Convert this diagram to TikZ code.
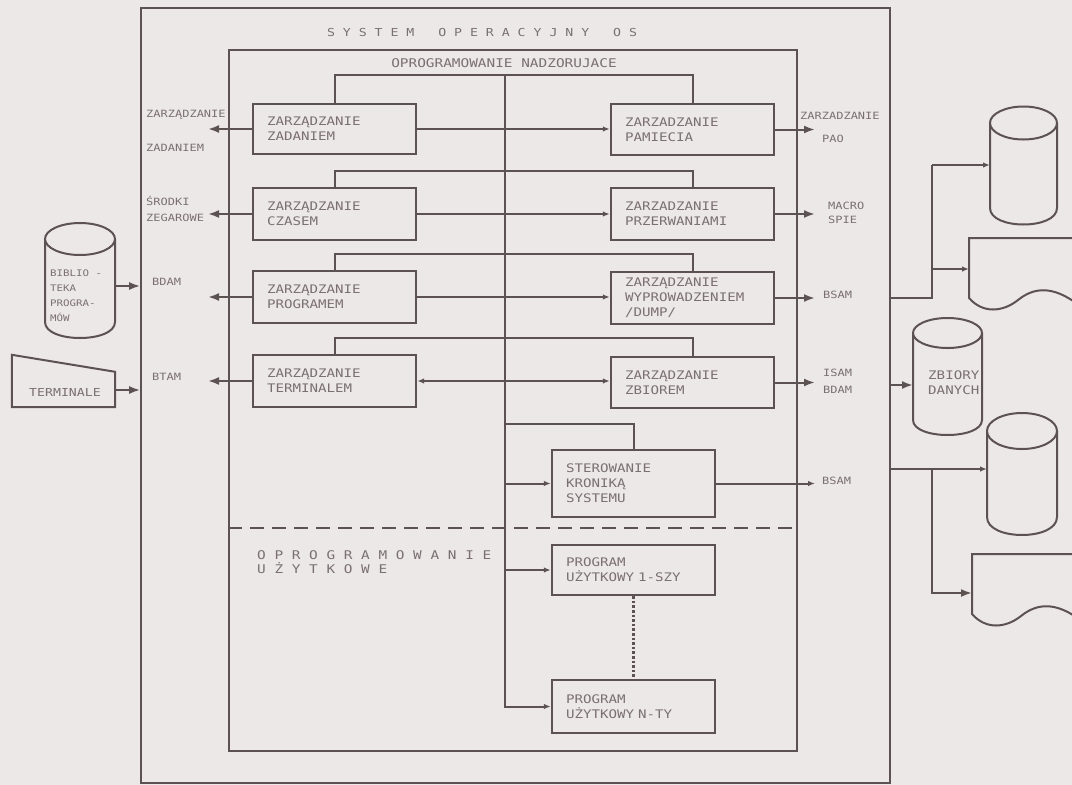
\documentclass[tikz,border=0pt]{standalone}
\usepackage{fontspec}
\usetikzlibrary{arrows.meta,calc}
\newfontfamily\dmono[FakeStretch=1.2]{DejaVu Sans Mono}
\definecolor{bgc}{RGB}{237,232,232}
\definecolor{lnc}{RGB}{92,82,82}
\definecolor{txc}{RGB}{122,112,112}
\newcommand\drum[6]{%
  \fill[bgc] ({#2-#5},#3) -- ({#2-#5},#4) .. controls ({#2-#5},{#4+1.333*#6}) and ({#2+#5},{#4+1.333*#6}) .. ({#2+#5},#4) -- ({#2+#5},#3) -- cycle;
  \draw[cyl] ({#2-#5},#3) -- ({#2-#5},#4) .. controls ({#2-#5},{#4+1.333*#6}) and ({#2+#5},{#4+1.333*#6}) .. ({#2+#5},#4) -- ({#2+#5},#3);
  \draw[cyl,fill=bgc] (#2,#3) ellipse [x radius=#5, y radius=#6];
  \coordinate (#1) at ({#2-#5},{(#3+#4)/2});
}
\begin{document}
\begin{tikzpicture}[x=1pt,y=-1pt,
  line/.style={draw=lnc, line width=2pt},
  cyl/.style={draw=lnc, line width=2pt},
  box/.style={draw=lnc, line width=2.4pt, fill=bgc, minimum width=163pt, text width=135pt,
     inner xsep=14pt, inner ysep=2pt, align=left, text=txc, font=\dmono\fontsize{11.8}{15}\selectfont},
  lbl/.style={text=txc, inner sep=0pt, anchor=west, font=\dmono\fontsize{10}{12}\selectfont},
  big/.style={text=txc, inner sep=0pt, font=\dmono\fontsize{11.8}{15}\selectfont},
  arr/.style={-{Latex[length=11pt,width=8pt]}},
  sarr/.style={-{Latex[length=7pt,width=5.5pt]}},
  dsarr/.style={{Latex[length=7pt,width=5.5pt]}-{Latex[length=7pt,width=5.5pt]}}]
\fill[bgc] (0,0) rectangle (1072,785);
\useasboundingbox (0,0) rectangle (1072,785);

% frames
\node[draw=lnc, line width=1.6pt, minimum width=749pt, minimum height=775pt, inner sep=0pt] (os) at (515.5,395.5) {};
\node[draw=lnc, line width=2pt, minimum width=568pt, minimum height=701pt, inner sep=0pt] (nad) at (513,400.5) {};
\node[big, font=\dmono\fontsize{11}{13}\selectfont] (tit) at (482,32) {S Y S T E M\ \ \ O P E R A C Y J N Y\ \ \ O S};
\node[big, font=\dmono\fontsize{12}{14}\selectfont] (sub) at (504,63) {OPROGRAMOWANIE NADZORUJACE};
\node[big, anchor=west, font=\dmono\fontsize{12}{14}\selectfont] (uz1) at (257,555) {O P R O G R A M O W A N I E};
\node[big, anchor=west, font=\dmono\fontsize{12}{14}\selectfont] (uz2) at (257,568) {U Ż Y T K O W E};

% boxes
\node[box, minimum height=50pt] (zad) at (334.5,129) {ZARZĄDZANIE\\ZADANIEM};
\node[box, minimum height=52pt] (czas) at (334.5,214) {ZARZĄDZANIE\\CZASEM};
\node[box, minimum height=52pt] (prog) at (334.5,297) {ZARZĄDZANIE\\PROGRAMEM};
\node[box, minimum height=52pt] (term) at (334.5,381) {ZARZĄDZANIE\\TERMINALEM};
\node[box, minimum height=51pt] (pam) at (692.5,129.5) {ZARZADZANIE\\PAMIECIA};
\node[box, minimum height=52pt] (prz) at (692.5,214) {ZARZADZANIE\\PRZERWANIAMI};
\node[box, minimum height=52pt, inner ysep=0pt] (wyp) at (692.5,298) {ZARZĄDZANIE\\WYPROWADZENIEM\\/DUMP/};
\node[box, minimum height=51pt] (zbi) at (692.5,382.5) {ZARZĄDZANIE\\ZBIOREM};
\node[box, minimum height=67pt] (ster) at (633.5,483.5) {STEROWANIE\\KRONIKĄ\\SYSTEMU};
\node[box, minimum height=50pt] (p1) at (633.5,570) {PROGRAM\\UŻYTKOWY 1-SZY};
\node[box, minimum height=53pt] (pn) at (633.5,706.5) {PROGRAM\\UŻYTKOWY N-TY};

% dashed separator
\coordinate (dy) at (0,528);
\draw[line, line width=2.4pt, dash pattern=on 14pt off 8pt] (nad.west |- dy) -- (nad.east |- dy);

% central bus
\coordinate (top) at (505,75);
\draw[line] (zad.north) |- (top) -| (pam.north);
\draw[line, sarr] (top) |- (pn.west);
\draw[line] (czas.north) -- ++(0,-16) -| (prz.north);
\draw[line] (prog.north) -- ++(0,-16) -| (wyp.north);
\draw[line] (term.north) -- ++(0,-16) -| (zbi.north);
\coordinate (sb) at (505,424);
\draw[line] (sb) -| (ster.north);
\draw[line, sarr] (ster.west -| top) -- (ster.west);
\draw[line, sarr] (p1.west -| top) -- (p1.west);
\draw[draw=lnc, line width=2.6pt, dotted] (p1.south) -- (pn.north);

% row connectors
\draw[line, sarr] (zad.east) -- (zad.east -| pam.west);
\draw[line, sarr] (czas.east) -- (czas.east -| prz.west);
\draw[line, sarr] (prog.east) -- (prog.east -| wyp.west);
\draw[line, dsarr] (term.east) -- (term.east -| zbi.west);

% left outputs
\coordinate (lx) at (208,0);
\draw[line, arr] (zad.west) -- (zad.west -| lx);
\draw[line, arr] (czas.west) -- (czas.west -| lx);
\draw[line, arr] (prog.west) -- (prog.west -| lx);
\draw[line, arr] (term.west) -- (term.west -| lx);
\node[lbl] (l1a) at (146,115) {ZARZĄDZANIE};
\node[lbl] (l1b) at (146,148) {ZADANIEM};
\node[lbl] (l2a) at (146,201) {ŚRODKI};
\node[lbl] (l2b) at (146,218) {ZEGAROWE};
\node[lbl] (l3) at (152,282) {BDAM};
\node[lbl] (l4) at (152,377) {BTAM};

% right outputs
\coordinate (rx) at (815,0);
\draw[line, arr] (pam.east) -- (pam.east -| rx);
\draw[line, arr] (prz.east) -- (prz.east -| rx);
\draw[line, arr] (wyp.east) -- (wyp.east -| rx);
\draw[line, arr] (zbi.east) -- (zbi.east -| rx);
\draw[line, sarr] (ster.east) -- (ster.east -| rx);
\node[lbl] (r1a) at (800,116) {ZARZADZANIE};
\node[lbl] (r1b) at (822,139) {PAO};
\node[lbl] (r2a) at (828,206) {MACRO};
\node[lbl] (r2b) at (828,220) {SPIE};
\node[lbl] (r3) at (823,295) {BSAM};
\node[lbl] (r4a) at (823,373) {ISAM};
\node[lbl] (r4b) at (823,390) {BDAM};
\node[lbl] (r5) at (822,481) {BSAM};

% left external: library drum and terminal
\drum{bibc}{80}{239}{322}{35}{16}
\node[text=txc, inner sep=0pt, anchor=west, align=left, font=\dmono\fontsize{9}{15}\selectfont] (bibt) at (50,295.5) {BIBLIO -\\TEKA\\PROGRA-\\MÓW};
\coordinate (bib) at (115,286);
\draw[line, arr] (bib) -- (bib -| os.west);
\node[inner sep=0pt, minimum width=103pt, minimum height=52pt] (trm) at (63.5,381) {};
\draw[cyl] (trm.south west) -- (trm.north west) -- ($(trm.north east)+(0,17)$) -- (trm.south east) -- cycle;
\node[big, font=\dmono\fontsize{11}{13}\selectfont] (trmt) at (65,392) {TERMINALE};
\coordinate (trmo) at (115,390);
\draw[line, arr] (trmo) -- (trmo -| os.west);

% right external
\drum{d1c}{1023.5}{123}{208}{33.5}{16.5}
\drum{zbc}{947.5}{333}{420}{34.5}{15}
\node[big, anchor=west, align=left] (zbt) at (928,383) {ZBIORY\\DANYCH};
\drum{d2c}{1022}{431}{517}{35}{18}
\draw[cyl] (1080,238) -- (969,238) -- (969,298) .. controls (983,314) and (1003,312) .. (1018,300) .. controls (1033,288) and (1052,284) .. (1080,306);
\draw[cyl] (1080,554) -- (972,554) -- (972,614) .. controls (986,630) and (1006,628) .. (1021,616) .. controls (1036,604) and (1055,600) .. (1083,622);
\coordinate (jx) at (932,0);
\coordinate (d1) at (990,165);
\coordinate (doc1) at (969,269);
\coordinate (zb) at (913,385);
\coordinate (d2) at (987,469);
\coordinate (doc2) at (972,593);
\draw[line] (wyp.east -| os.east) -- (wyp.east -| jx) -- (jx |- d1);
\draw[line, sarr] (jx |- d1) -- (d1);
\draw[line, sarr] (jx |- doc1) -- (doc1);
\draw[line, arr] (zb -| os.east) -- (zb);
\draw[line, sarr] (d2 -| os.east) -- (d2);
\draw[line, arr] (d2 -| jx) |- (doc2);
\end{tikzpicture}
\end{document}
